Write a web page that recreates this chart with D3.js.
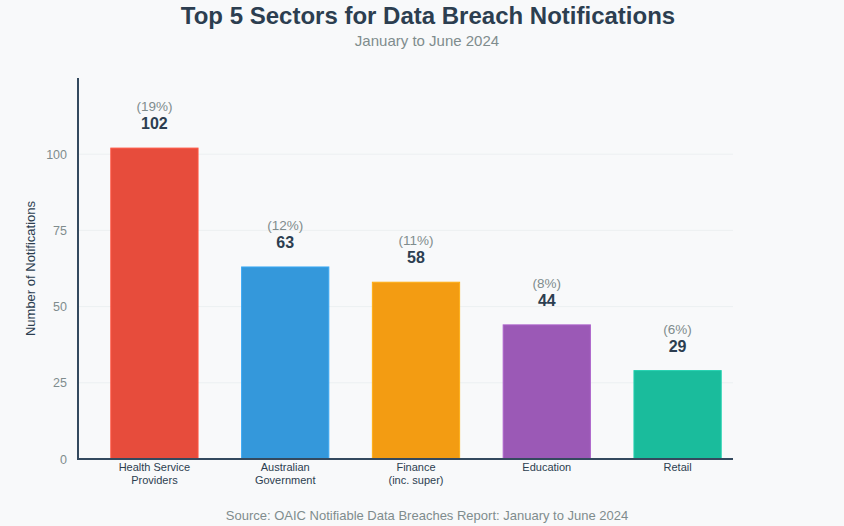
<!DOCTYPE html>
<html>
<head>
<meta charset="utf-8">
<script src="https://cdn.jsdelivr.net/npm/d3@7"></script>
<style>
  html, body { margin: 0; padding: 0; background: #f8f9fa; }
  svg { display: block; font-family: "Liberation Sans", Arial, sans-serif; }
</style>
</head>
<body>
<svg id="chart" width="844" height="526"></svg>
<script>
const sectors = ["Health Service Providers", "Australian Government", "Finance (inc. super)", "Education", "Retail"];
const sectorLines = [["Health Service", "Providers"], ["Australian", "Government"], ["Finance", "(inc. super)"], ["Education"], ["Retail"]];
const counts = [102, 63, 58, 44, 29];
const shares = ["19%", "12%", "11%", "8%", "6%"];
const colors = ["#e74c3c", "#3498db", "#f39c12", "#9b59b6", "#1abc9c"];
const yTicks = [0, 25, 50, 75, 100];

const svg = d3.select("#chart");
const W = 844, H = 526;
svg.append("rect").attr("width", W).attr("height", H).attr("fill", "#f8f9fa");

const plot = { left: 78, right: 733, top: 78, bottom: 459 };

const x = d3.scaleBand().domain(sectors).range([89, 743]).paddingInner(0.333).paddingOuter(0.1667);
const y = d3.scaleLinear().domain([0, 125]).range([plot.bottom, plot.top]);

// title
svg.append("text").attr("x", 428).attr("y", 24).attr("text-anchor", "middle")
  .attr("font-size", 24).attr("font-weight", "bold").attr("fill", "#2c3e50")
  .text("Top 5 Sectors for Data Breach Notifications");
svg.append("text").attr("x", 427).attr("y", 46).attr("text-anchor", "middle")
  .attr("font-size", 15).attr("fill", "#7f8c8d")
  .text("January to June 2024");

// gridlines
svg.append("g").selectAll("line").data(yTicks.filter(d => d > 0)).join("line")
  .attr("x1", plot.left).attr("x2", plot.right)
  .attr("y1", d => y(d)).attr("y2", d => y(d))
  .attr("stroke", "#ecf0f1").attr("stroke-width", 1);

// y axis
const yAxis = d3.axisLeft(y).tickValues(yTicks).tickSize(0).tickPadding(11);
const gy = svg.append("g").attr("transform", `translate(${plot.left},0)`).call(yAxis);
gy.select(".domain").remove();
gy.selectAll("text").attr("font-size", 12.5).attr("fill", "#7f8c8d").attr("font-family", "Liberation Sans, Arial, sans-serif");

// bars
svg.append("g").selectAll("rect").data(sectors).join("rect")
  .attr("x", d => x(d)).attr("width", x.bandwidth())
  .attr("y", (d, i) => y(counts[i])).attr("height", (d, i) => y(0) - y(counts[i]))
  .attr("fill", (d, i) => colors[i])
  .attr("stroke", (d, i) => d3.color(colors[i]).brighter(0.3))
  .attr("stroke-width", 1);

// value labels
svg.append("g").selectAll("text").data(sectors).join("text")
  .attr("x", d => x(d) + x.bandwidth() / 2)
  .attr("y", (d, i) => y(counts[i]) - 19)
  .attr("text-anchor", "middle").attr("font-size", 16).attr("font-weight", "bold").attr("fill", "#2c3e50")
  .text((d, i) => counts[i]);
svg.append("g").selectAll("text").data(sectors).join("text")
  .attr("x", d => x(d) + x.bandwidth() / 2)
  .attr("y", (d, i) => y(counts[i]) - 37)
  .attr("text-anchor", "middle").attr("font-size", 13.5).attr("fill", "#7f8c8d")
  .text((d, i) => `(${shares[i]})`);

// axis lines
svg.append("line").attr("x1", plot.left).attr("x2", plot.left).attr("y1", plot.top).attr("y2", plot.bottom + 1)
  .attr("stroke", "#34495e").attr("stroke-width", 2);
svg.append("line").attr("x1", plot.left - 1).attr("x2", plot.right).attr("y1", plot.bottom).attr("y2", plot.bottom)
  .attr("stroke", "#34495e").attr("stroke-width", 2);

// x labels
const xl = svg.append("g").selectAll("text").data(sectors).join("text")
  .attr("x", d => x(d) + x.bandwidth() / 2)
  .attr("y", 471)
  .attr("text-anchor", "middle").attr("font-size", 11).attr("fill", "#2c3e50");
xl.each(function(d, i) {
  const t = d3.select(this);
  sectorLines[i].forEach((ln, j) => {
    t.append("tspan").attr("x", x(d) + x.bandwidth() / 2).attr("dy", j === 0 ? 0 : 13).text(ln);
  });
});

// y axis title
svg.append("text").attr("transform", `translate(35,${(plot.top + plot.bottom) / 2}) rotate(-90)`)
  .attr("text-anchor", "middle").attr("font-size", 13).attr("fill", "#2c3e50")
  .text("Number of Notifications");

// source
svg.append("text").attr("x", 427).attr("y", 520).attr("text-anchor", "middle")
  .attr("font-size", 13).attr("fill", "#7f8c8d")
  .text("Source: OAIC Notifiable Data Breaches Report: January to June 2024");
</script>
</body>
</html>
